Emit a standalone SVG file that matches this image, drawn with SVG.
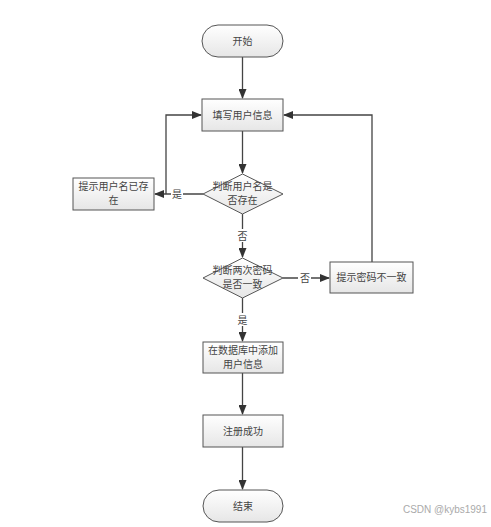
<svg xmlns="http://www.w3.org/2000/svg" width="491" height="527" viewBox="0 0 491 527">
<style>
.n{fill:url(#g);stroke:#555;stroke-width:1}
.t{font-family:"Noto Sans CJK SC","Noto Sans",sans-serif;font-size:10px;fill:#444;text-anchor:middle}
.c{fill:none;stroke:#444;stroke-width:1.3}
.lb{fill:#fff}
</style>
<defs>
<linearGradient id="g" x1="0" y1="0" x2="0" y2="1"><stop offset="0" stop-color="#ffffff"/><stop offset="1" stop-color="#e6e6e6"/></linearGradient>
<marker id="a" markerWidth="10" markerHeight="8" refX="9" refY="4" orient="auto" markerUnits="userSpaceOnUse"><path d="M0,0 L10,4 L0,8 Z" fill="#333"/></marker>
</defs>
<rect width="491" height="527" fill="#fff"/>
<g id="connectors">
<path class="c" d="M242.5,57 V98" marker-end="url(#a)"/>
<path class="c" d="M242.5,131 V173" marker-end="url(#a)"/>
<path class="c" d="M203,194 H155" marker-end="url(#a)"/>
<path class="c" d="M166,194 V115 H201" marker-end="url(#a)"/>
<path class="c" d="M242.5,214 V257" marker-end="url(#a)"/>
<path class="c" d="M283,278 H329" marker-end="url(#a)"/>
<path class="c" d="M372,262 V115 H284" marker-end="url(#a)"/>
<path class="c" d="M242.5,298 V341" marker-end="url(#a)"/>
<path class="c" d="M242.5,373 V414" marker-end="url(#a)"/>
<path class="c" d="M242.5,447 V489" marker-end="url(#a)"/>
<rect class="lb" x="171" y="187" width="12" height="13"/>
<text class="t" x="177" y="197.5">是</text>
<rect class="lb" x="236" y="229" width="13" height="13"/>
<text class="t" x="242.5" y="239.5">否</text>
<rect class="lb" x="298" y="271" width="13" height="13"/>
<text class="t" x="305" y="281.5">否</text>
<rect class="lb" x="236" y="313" width="13" height="13"/>
<text class="t" x="242.5" y="323.5">是</text>
</g>
<g id="start"><rect class="n" x="202" y="25" width="81" height="32" rx="16"/><text class="t" x="242.5" y="44.5">开始</text></g>
<g id="fill"><rect class="n" x="202" y="99" width="81" height="32"/><text class="t" x="242.5" y="118.5">填写用户信息</text></g>
<g id="check1"><polygon class="n" points="242.5,174 283,194 242.5,214 203,194"/><text class="t" x="242.5" y="190">判断用户名是</text><text class="t" x="242.5" y="204">否存在</text></g>
<g id="exists"><rect class="n" x="73" y="178" width="81" height="32"/><text class="t" x="113.5" y="190">提示用户名已存</text><text class="t" x="113.5" y="204">在</text></g>
<g id="check2"><polygon class="n" points="242.5,258 283,278 242.5,298 203,278"/><text class="t" x="242.5" y="274">判断两次密码</text><text class="t" x="242.5" y="288">是否一致</text></g>
<g id="mismatch"><rect class="n" x="330" y="262" width="83" height="31"/><text class="t" x="371.5" y="281">提示密码不一致</text></g>
<g id="add"><rect class="n" x="203" y="342" width="80" height="31"/><text class="t" x="243" y="353.5">在数据库中添加</text><text class="t" x="243" y="367.5">用户信息</text></g>
<g id="success"><rect class="n" x="203" y="415" width="80" height="32"/><text class="t" x="243" y="434.5">注册成功</text></g>
<g id="end"><rect class="n" x="203" y="490" width="80" height="32" rx="16"/><text class="t" x="243" y="509.5">结束</text></g>
<text x="487" y="513" font-family="'Liberation Sans',Arial,sans-serif" font-size="10" fill="#aaa" text-anchor="end">CSDN @kybs1991</text>
</svg>
